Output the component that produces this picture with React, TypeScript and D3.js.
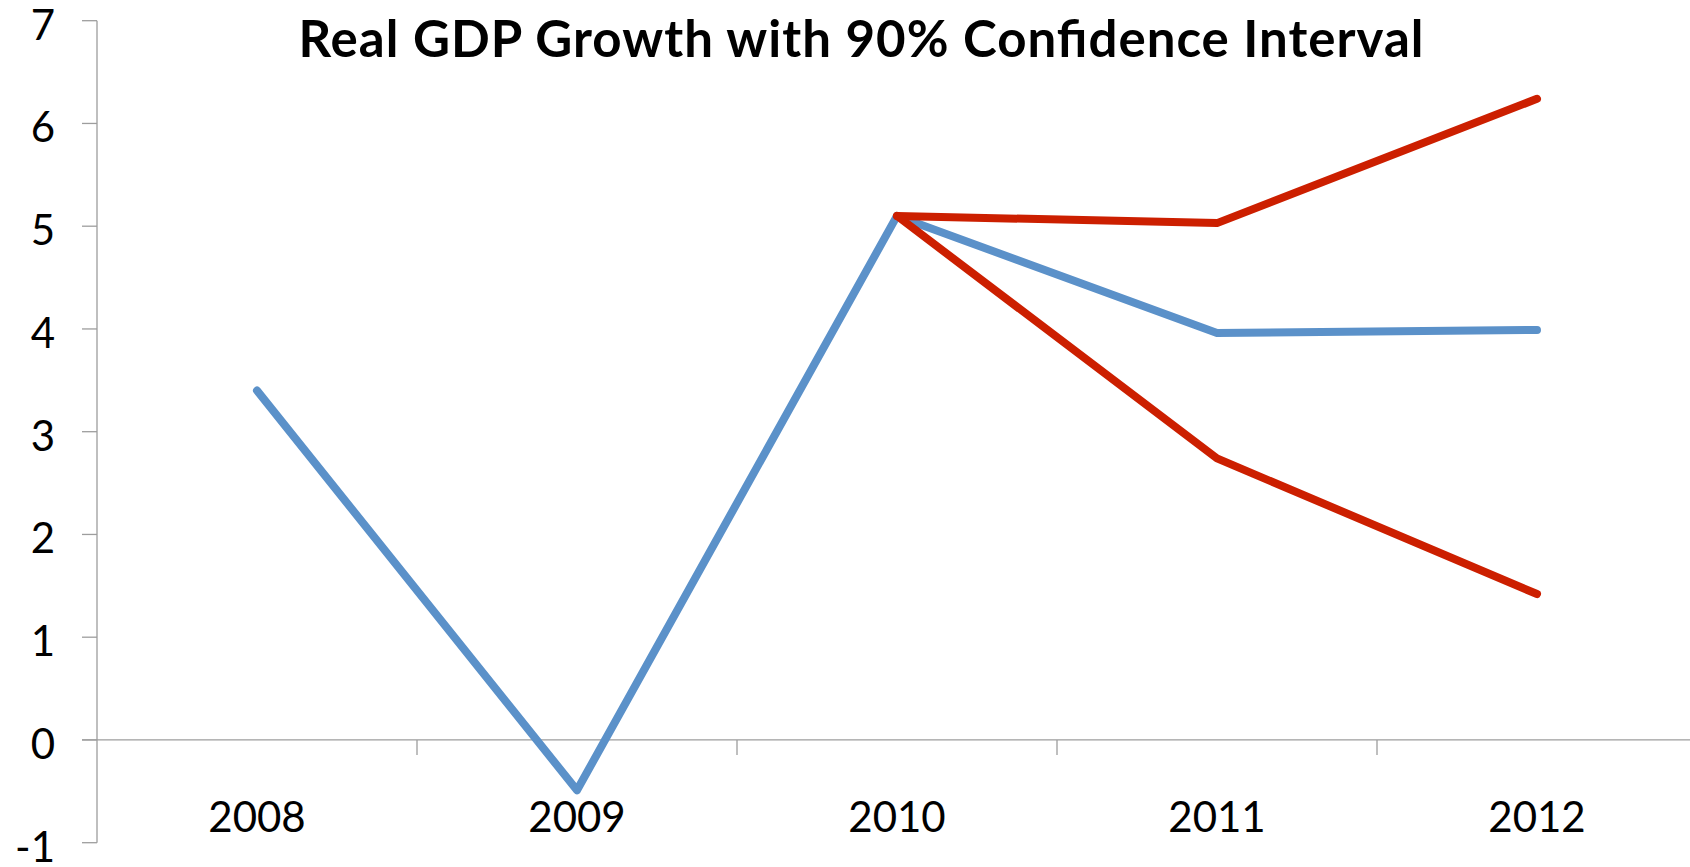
import React from 'react';
import * as d3 from 'd3';

const years = ['2008', '2009', '2010', '2011', '2012'];
const gdp: (number | null)[] = [3.4, -0.49, 5.1, 3.96, 3.99];
const upper: (number | null)[] = [null, null, 5.1, 5.03, 6.24];
const lower: (number | null)[] = [null, null, 5.1, 2.74, 1.42];
const yTicks = [-1, 0, 1, 2, 3, 4, 5, 6, 7];

const W = 1690;
const H = 867;
const FONT = 'Lato, "Noto Sans", sans-serif';

const App: React.FC = () => {
  const x = d3.scaleBand<string>().domain(years).range([97, 1697]);
  const y = d3.scaleLinear().domain([-1, 7]).range([842.7, 20.7]);
  const cx = (i: number) => (x(years[i]) ?? 0) + x.bandwidth() / 2;
  const line = d3
    .line<number | null>()
    .defined(d => d !== null)
    .x((_, i) => cx(i))
    .y(d => y(d as number));
  const axisColor = '#9d9d9d';
  const boundaries = years.map(yr => x(yr) ?? 0).slice(1);

  return (
    <svg width={W} height={H} style={{ position: 'absolute', left: 0, top: 0, background: '#fff' }}>
      {/* y axis */}
      <line x1={97} x2={97} y1={y(7)} y2={y(-1)} stroke={axisColor} strokeWidth={1.3} />
      {yTicks.map(t => (
        <g key={t}>
          <line x1={82} x2={97} y1={y(t)} y2={y(t)} stroke={axisColor} strokeWidth={1.3} />
          <text x={55} y={y(t) + 19} textAnchor="end" fontFamily={FONT} fontSize={42} fill="#000">
            {t}
          </text>
        </g>
      ))}
      {/* x axis at zero */}
      <line x1={82} x2={W} y1={y(0)} y2={y(0)} stroke={axisColor} strokeWidth={1.3} />
      {boundaries.map((b, i) => (
        <line key={i} x1={b} x2={b} y1={y(0)} y2={y(0) + 15} stroke={axisColor} strokeWidth={1.3} />
      ))}
      {years.map((yr, i) => (
        <text key={yr} x={cx(i)} y={832} textAnchor="middle" fontFamily={FONT} fontSize={42} fill="#000">
          {yr}
        </text>
      ))}
      {/* series */}
      <path d={line(gdp) ?? ''} fill="none" stroke="#5B91C9" strokeWidth={8} strokeLinecap="round" strokeLinejoin="round" />
      <path d={line(upper) ?? ''} fill="none" stroke="#CC1F00" strokeWidth={8} strokeLinecap="round" strokeLinejoin="round" />
      <path d={line(lower) ?? ''} fill="none" stroke="#CC1F00" strokeWidth={8} strokeLinecap="round" strokeLinejoin="round" />
      {/* title */}
      <text x={861} y={57} textAnchor="middle" fontFamily={FONT} fontWeight="bold" fontSize={51}
        textLength={1125} lengthAdjust="spacing" fill="#000">
        Real GDP Growth with 90% Confidence Interval
      </text>
    </svg>
  );
};

export default App;
